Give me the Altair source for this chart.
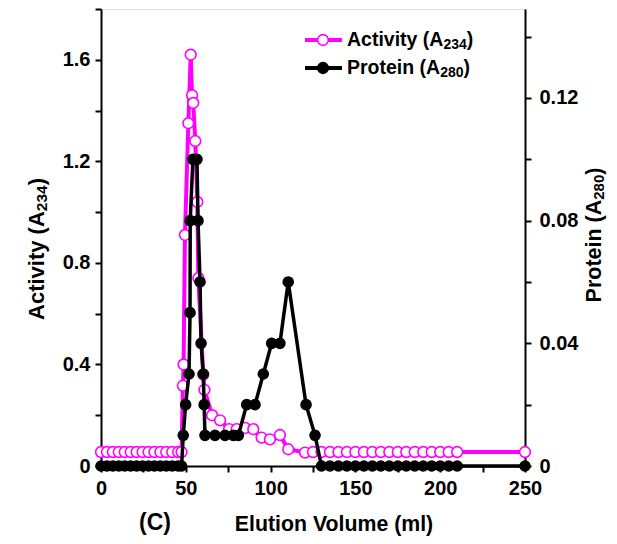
import altair as alt
import pandas as pd

# ---------------- data ----------------
pre_vol = [0, 3.5, 7, 10.5, 14, 17.5, 21, 24.5, 28, 31.5, 35, 38.5, 42, 45.5, 47.5]

act_vol = pre_vol + [48.3, 48.7, 49.5, 51.5, 52.9, 53.7, 54.4, 55.6, 56.8, 57.4, 60.3, 61.0,
                     65.5, 70.2, 75.5, 80.0, 85.0, 89.8, 94.7, 99.6, 105.5, 110.4, 120.3,
                     125, 130, 135, 140, 145, 150, 155, 160, 165, 170, 175, 180, 185, 190,
                     195, 200, 205, 210, 250]
act_val = [0.055] * 15 + [0.316, 0.40, 0.91, 1.35, 1.62, 1.46, 1.43, 1.28, 1.04, 0.74, 0.36, 0.30,
                          0.20, 0.18, 0.145, 0.145, 0.15, 0.145, 0.112, 0.105, 0.122, 0.066, 0.053,
                          0.055, 0.055, 0.055, 0.055, 0.055, 0.055, 0.055, 0.055, 0.055, 0.055,
                          0.055, 0.055, 0.055, 0.055, 0.055, 0.055, 0.055, 0.055, 0.055]

prot_vol = pre_vol + [48.5, 49.9, 51.9, 52.5, 52.6, 54.2, 56.6, 57.2, 58.4, 59.0, 60.3, 60.8,
                      61.3, 67.2, 73.1, 78.0, 81.0, 85.9, 90.8, 95.7, 100.6, 105.5, 110.4,
                      120.9, 126.2, 130, 135, 140, 145, 150, 155, 160, 165, 170, 175, 180,
                      185, 190, 195, 200, 205, 210, 250]
prot_val = [0.0] * 15 + [0.01, 0.02, 0.03, 0.05, 0.08, 0.10, 0.10, 0.08, 0.06, 0.04, 0.03, 0.02,
                         0.01, 0.01, 0.01, 0.01, 0.01, 0.02, 0.02, 0.03, 0.04, 0.04, 0.06,
                         0.02, 0.01, 0, 0, 0, 0, 0, 0, 0, 0, 0, 0, 0,
                         0, 0, 0, 0, 0, 0, 0]

x_ticks = list(range(0, 251, 25))
left_ticks = [round(0.2 * i, 1) for i in range(10)]
right_ticks = [round(0.02 * i, 2) for i in range(8)]

# label pieces: (main text, subscript, closing)
act_label = ("Activity (A", "234", ")")
prot_label = ("Protein (A", "280", ")")
x_title = "Elution Volume (ml)"
panel_label = "(C)"

act = pd.DataFrame({"vol": act_vol, "val": act_val, "i": range(len(act_vol))})
prot = pd.DataFrame({"vol": prot_vol, "val": prot_val, "i": range(len(prot_vol))})

FONT = "Liberation Sans"
MAG = "#FF00FF"

# Arial/Liberation Sans Bold advance widths (per 1000 em) for text layout
W = {"A": 722, "c": 556, "t": 333, "i": 278, "v": 556, "y": 556, " ": 278, "(": 333,
     ")": 333, "P": 667, "r": 389, "o": 611, "e": 556, "n": 611}
for d in "0123456789":
    W[d] = 556


def tw(s, size):
    return sum(W.get(ch, 556) for ch in s) * size / 1000.0


common_axis = dict(
    grid=False, tickSize=6, tickWidth=2, domainWidth=2, labelFlush=False,
    domainColor="black", tickColor="black", labelColor="black",
    labelFont=FONT, labelFontSize=20, labelFontWeight="bold",
)

x_enc = alt.X(
    "vol:Q",
    scale=alt.Scale(domain=[0, 250], nice=False, zero=False),
    axis=alt.Axis(
        values=x_ticks,
        labelExpr="datum.value % 50 == 0 ? datum.label : ''",
        title=None,
        labelPadding=6,
        **common_axis,
    ),
)

y_left = alt.Y(
    "val:Q",
    scale=alt.Scale(domain=[0, 1.8], nice=False),
    axis=alt.Axis(
        orient="left",
        values=left_ticks,
        labelExpr="round(datum.value*10) % 4 == 0 ? (datum.value == 0 ? '0' : format(datum.value, '.1f')) : ''",
        title=None,
        labelPadding=5,
        **common_axis,
    ),
)

y_right = alt.Y(
    "val:Q",
    scale=alt.Scale(domain=[0, 0.149], nice=False),
    axis=alt.Axis(
        orient="right",
        values=right_ticks,
        labelExpr="round(datum.value*100) % 4 == 0 ? (datum.value == 0 ? '0' : format(datum.value, '.2f')) : ''",
        title=None,
        labelPadding=8,
        **common_axis,
    ),
)

act_line = alt.Chart(act).mark_line(color=MAG, strokeWidth=4).encode(
    x=x_enc, y=y_left, order="i:Q")
act_pts = alt.Chart(act).mark_circle(size=115, fill="white", stroke=MAG, strokeWidth=1.6,
                                     opacity=1).encode(x="vol:Q", y="val:Q")
act_layer = alt.layer(act_line, act_pts)

prot_line = alt.Chart(prot).mark_line(color="black", strokeWidth=3.5).encode(
    x="vol:Q", y=y_right, order="i:Q")
prot_pts = alt.Chart(prot).mark_circle(size=135, color="black", opacity=1).encode(
    x="vol:Q", y="val:Q")
prot_layer = alt.layer(prot_line, prot_pts)

one = pd.DataFrame({"k": [0]})


def txt(s, x, y, size, angle=0, align="left"):
    props = dict(align=align, baseline="middle", font=FONT, fontSize=size,
                 fontWeight="bold", color="black", text=s)
    if angle:
        props["angle"] = angle
    return alt.Chart(one).mark_text(**props).encode(x=alt.value(x), y=alt.value(y))


def sub_text_h(parts, x, y, size, ssize, drop):
    """horizontal label with subscript"""
    m, s, c = parts
    x1 = x + tw(m, size)
    x2 = x1 + tw(s, ssize)
    return [txt(m, x, y, size), txt(s, x1, y + drop, ssize), txt(c, x2, y, size)]


def sub_text_v(parts, xc, yc, size, ssize, drop):
    """label rotated 270 deg (reads bottom to top) with subscript, centred at (xc, yc)"""
    m, s, c = parts
    total = tw(m, size) + tw(s, ssize) + tw(c, size)
    y0 = yc + total / 2
    y1 = y0 - tw(m, size)
    y2 = y1 - tw(s, ssize)
    return [txt(m, xc, y0, size, 270), txt(s, xc + drop, y1, ssize, 270),
            txt(c, xc, y2, size, 270)]


# ---------------- manual legend ----------------
lx0, lx1, lcx, ltx = 204, 241, 222, 246
ly = [31, 59]
legend_layers = []
for k, (col, fillc, parts) in enumerate([(MAG, "white", act_label), ("black", "black", prot_label)]):
    legend_layers.append(
        alt.Chart(one).mark_rule(color=col, strokeWidth=4).encode(
            x=alt.value(lx0), x2=alt.value(lx1), y=alt.value(ly[k])))
    legend_layers.append(
        alt.Chart(one).mark_point(shape="circle", size=115, filled=True, fill=fillc,
                                  stroke=col, strokeWidth=1.6, opacity=1).encode(
            x=alt.value(lcx), y=alt.value(ly[k])))
    legend_layers += sub_text_h(parts, ltx, ly[k], 19.5, 14, 5)

# ---------------- axis titles and panel label ----------------
title_layers = []
title_layers += sub_text_v(act_label, -64, 240, 22, 15.5, 5)
title_layers += sub_text_v(prot_label, 494, 226, 21.5, 15, 4)
title_layers.append(txt(x_title, 233, 516, 21.3, align="center"))
title_layers.append(txt(panel_label, 54, 514, 23, align="center"))

data_layers = alt.layer(act_layer, prot_layer).resolve_scale(y="independent")

chart = alt.layer(data_layers, *legend_layers, *title_layers).resolve_scale(
    y="independent").properties(
    width=424, height=457,
    autosize=alt.AutoSizeParams(type="none"),
    padding={"left": 93, "top": 1, "right": 84, "bottom": 70},
).configure_view(stroke=None).configure(background="white")

chart.save("out.html", embed_options={"renderer": "svg", "actions": False})
